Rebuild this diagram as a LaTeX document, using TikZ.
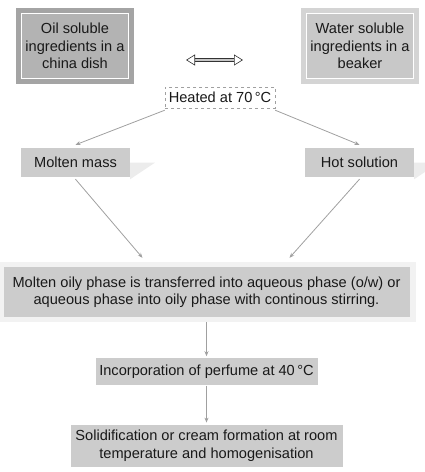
\documentclass[tikz,border=0pt]{standalone}
\usepackage{fontspec}
\setmainfont{Liberation Sans}
\usetikzlibrary{arrows.meta, positioning, backgrounds}

\definecolor{boxgray}{HTML}{CCCCCC}
\definecolor{oilfill}{HTML}{B3B3B3}
\definecolor{oilframe}{HTML}{A4A4A4}
\definecolor{waterfill}{HTML}{C8C8C8}
\definecolor{waterframe}{HTML}{D4D4D4}
\definecolor{bandgray}{HTML}{F2F2F2}
\definecolor{shadegray}{HTML}{ECECEC}
\definecolor{linegray}{HTML}{A0A0A0}

\begin{document}
\begin{tikzpicture}[x=1pt, y=-1pt,
    txt/.style={font=\fontsize{14.6}{17.5}\selectfont, text=black!90, align=center, inner sep=0pt},
    box/.style={txt, fill=boxgray, minimum height=#1},
    box/.default=29pt,
    framed/.style 2 args={txt, fill=#1, draw=white, line width=0.8pt,
        preaction={draw=#2, line width=11pt},
        minimum width=107pt, minimum height=65pt},
    arrow/.style={-{Stealth[length=5pt, width=4pt]}, draw=linegray, line width=0.8pt}
]
\useasboundingbox (0,0) rectangle (425,472);

% Nodes
\node [framed={oilfill}{oilframe}] (oil) at (75,46) {Oil soluble\\ingredients in a\\china dish};
\node [framed={waterfill}{waterframe}] (water) at (360,46) {Water soluble\\ingredients in a\\beaker};

\coordinate (dl) at (186,60);
\coordinate (dr) at (243,60);

\node [txt, draw=linegray, dashed, fill=white, minimum width=110pt, minimum height=21pt] (heat) at (220,97.5) {Heated at 70\,°C};

\node [box, minimum width=109pt] (molten) at (75.5,162.5) {Molten mass};
\node [box, minimum width=109pt] (hot) at (359.5,162.5) {Hot solution};

\node [box=50pt, minimum width=406pt] (mix) at (206.5,292) {Molten oily phase is transferred into aqueous phase (o/w) or\\aqueous phase into oily phase with continous stirring.};
\node [box=27pt, minimum width=222pt, below=41pt of mix] (perfume) {Incorporation of perfume at 40\,°C};
\node [box=42pt, minimum width=272pt, below=39pt of perfume] (solid) {Solidification or cream formation at room\\temperature and homogenisation};

% Shades
\begin{scope}[on background layer]
\fill [bandgray] ([xshift=-3pt, yshift=5pt]mix.north west) rectangle ([xshift=6pt, yshift=-5pt]mix.south east);
\fill [shadegray] (molten.east) -- ++(25,0) -- ([yshift=-2pt]molten.south east) -- cycle;
\fill [shadegray] (hot.east) -- ++(25,0) -- ([yshift=-2pt]hot.south east) -- cycle;
\end{scope}

% Arrows
\draw [double=gray!45, double distance=2.4pt, draw=black!80, line width=0.6pt,
    {Triangle[open, length=9pt, width=11pt, line width=0.6pt, fill=white]}-{Triangle[open, length=9pt, width=11pt, line width=0.6pt, fill=white]}] (dl) -- (dr);

\draw [arrow] ([yshift=-2pt]heat.south west) -- ([yshift=3pt]molten.north);
\draw [arrow] ([yshift=-2pt]heat.south east) -- ([yshift=3pt]hot.north);

\draw [arrow] ([yshift=-2pt]molten.south) -- ([xshift=-64pt, yshift=9pt]mix.north);
\draw [arrow] ([yshift=-2pt]hot.south) -- ([xshift=83pt, yshift=9pt]mix.north);

\draw [arrow] ([yshift=-5pt]mix.south) -- ([yshift=2pt]perfume.north);
\draw [arrow] (perfume.south) -- ([yshift=2pt]solid.north);

\end{tikzpicture}
\end{document}
